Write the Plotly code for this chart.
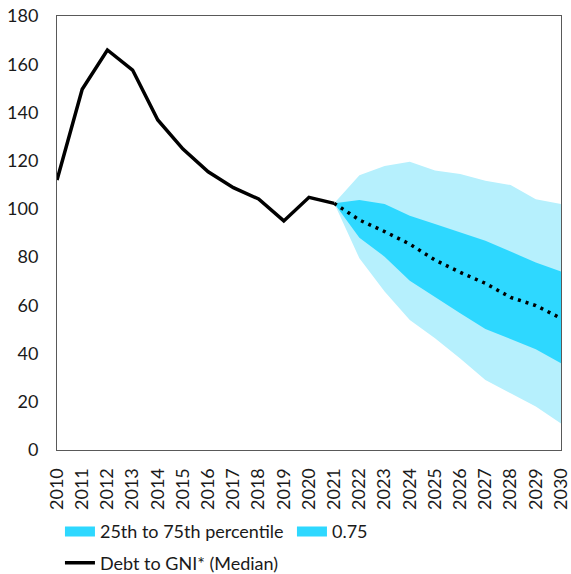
import plotly.graph_objects as go

# Historical debt-to-GNI* ratio (median path)
years_hist = [2010, 2011, 2012, 2013, 2014, 2015, 2016, 2017, 2018, 2019, 2020, 2021]
debt_hist = [112.0, 149.6, 165.9, 157.6, 136.9, 124.8, 115.4, 108.8, 104.1, 95.0, 104.8, 102.3]

# Projection fan: median and percentile bounds
years_proj = [2021, 2022, 2023, 2024, 2025, 2026, 2027, 2028, 2029, 2030]
median_proj = [102.3, 95.4, 90.6, 85.4, 78.8, 73.7, 69.1, 63.3, 59.9, 54.6]
p25 = [102.3, 88.0, 80.2, 70.2, 63.6, 56.7, 50.2, 46.0, 41.8, 36.0]
p75 = [102.3, 103.7, 102.0, 97.2, 93.7, 90.1, 86.8, 82.3, 77.8, 74.0]
p10 = [102.3, 79.5, 65.7, 53.9, 46.3, 38.0, 29.0, 23.5, 18.0, 11.0]
p90 = [102.3, 114.0, 117.8, 119.6, 115.9, 114.5, 111.7, 109.9, 104.0, 102.0]

x_ticks = list(range(2010, 2031))
y_ticks = list(range(0, 181, 20))

OUTER = "#b6f0fd"
INNER = "#2ed8ff"
FONT = "Lato"
TXT = "#1a1a1a"

fig = go.Figure()

# outer band (10th-90th)
fig.add_trace(go.Scatter(
    x=years_proj + years_proj[::-1], y=p90 + p10[::-1],
    fill="toself", fillcolor=OUTER, line=dict(width=0),
    mode="lines", showlegend=False, hoverinfo="skip"))

# inner band (25th-75th)
fig.add_trace(go.Scatter(
    x=years_proj + years_proj[::-1], y=p75 + p25[::-1],
    fill="toself", fillcolor=INNER, line=dict(width=0),
    mode="lines", showlegend=False, hoverinfo="skip"))

# legend swatches for the bands
fig.add_trace(go.Scatter(
    x=[None], y=[None], mode="lines", name="25th to 75th percentile",
    line=dict(color=INNER, width=10), legend="legend"))
fig.add_trace(go.Scatter(
    x=[None], y=[None], mode="lines", name="0.75",
    line=dict(color=INNER, width=10), legend="legend"))

# projected median (dotted)
fig.add_trace(go.Scatter(
    x=years_proj, y=median_proj, mode="lines",
    line=dict(color="black", width=3.5, dash="3px,5px"),
    showlegend=False))

# historical line
fig.add_trace(go.Scatter(
    x=years_hist, y=debt_hist, mode="lines", name="Debt to GNI* (Median)",
    line=dict(color="black", width=3.5), legend="legend2"))

axis_common = dict(
    showgrid=False, zeroline=False, showline=True, linecolor="#595959",
    linewidth=1, mirror=True, ticks="", automargin=False,
    ticklabeloverflow="allow",
    tickfont=dict(family=FONT, size=18, color=TXT),
)

legend_common = dict(
    orientation="h", xref="container", yref="container",
    xanchor="left", yanchor="middle",
    font=dict(family=FONT, size=18, color=TXT),
    bgcolor="rgba(0,0,0,0)", borderwidth=0,
)

fig.update_layout(
    width=571, height=574,
    margin=dict(l=57, r=10, t=16, b=124, autoexpand=False),
    paper_bgcolor="white", plot_bgcolor="white",
    font=dict(family=FONT, size=18, color=TXT),
    xaxis=dict(range=[2010, 2030], tickvals=x_ticks, tickangle=-90,
               ticklabelstandoff=10, **axis_common),
    yaxis=dict(range=[0, 180], tickvals=y_ticks, ticklabelstandoff=14,
               **axis_common),
    legend=dict(x=0.105, y=1 - 531.7 / 574, entrywidth=187, **legend_common),
    legend2=dict(x=0.105, y=1 - 563 / 574, **legend_common),
)

fig.write_html("out.html")
